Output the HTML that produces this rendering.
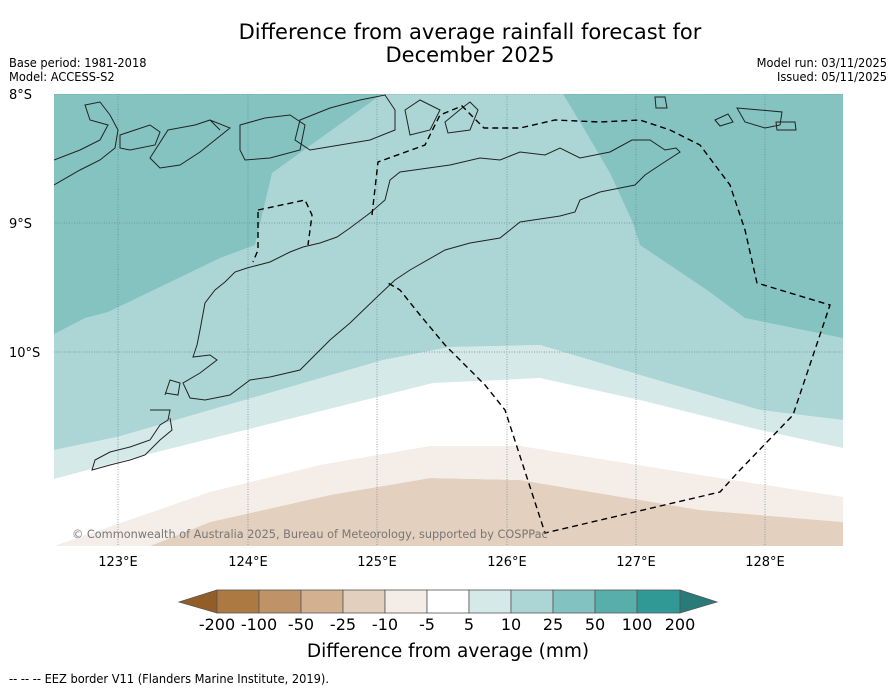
<!DOCTYPE html>
<html><head><meta charset="utf-8"><style>
body{margin:0;background:#fff;width:896px;height:690px;overflow:hidden;font-family:"DejaVu Sans","Liberation Sans",sans-serif}
svg{display:block}
.sm{font-family:"DejaVu Sans Condensed","DejaVu Sans",sans-serif;font-size:12.7px}
</style></head><body>
<svg width="896" height="690">
<text x="470" y="39" text-anchor="middle" font-size="21">Difference from average rainfall forecast for</text>
<text x="470" y="62" text-anchor="middle" font-size="21">December 2025</text>
<text x="9" y="67" class="sm">Base period: 1981-2018</text>
<text x="9" y="81" class="sm">Model: ACCESS-S2</text>
<text x="887" y="67" class="sm" text-anchor="end">Model run: 03/11/2025</text>
<text x="887" y="81" class="sm" text-anchor="end">Issued: 05/11/2025</text>
<defs><clipPath id="mc"><rect x="54" y="94" width="789" height="452"/></clipPath></defs>
<g clip-path="url(#mc)">
<rect x="54" y="94" width="789" height="452" fill="#fff"/>
<polygon fill="#e3d0bf" points="54,560 150,546 210,522 330,495 430,478 520,480 700,510 843,522 843,560"/>
<polygon fill="#f4ede8" points="54,546 210,492 320,465 430,446 520,446 700,475 843,497 843,522 700,510 520,480 430,478 330,495 210,522 150,546"/>
<polygon fill="#d5e9e8" points="54,450 117,437 383,360 450,347 540,345 640,375 760,410 843,420 843,448 760,430 640,400 540,378 433,383 117,462 54,479"/>
<polygon fill="#acd6d5" points="54,94 843,94 843,420 760,410 640,375 540,345 450,347 383,360 117,437 54,450"/>
<polygon fill="#84c3c0" points="54,94 382,94 272,173 255,245 220,258 108,312 85,318 54,334"/>
<polygon fill="#84c3c0" points="563,94 843,94 843,338 745,318 707,290 640,245 633,223 610,173 583,127"/>
<g stroke="#6a8a8a" stroke-width="0.7" stroke-dasharray="1,1.5">
<line x1="118" y1="94" x2="118" y2="546"/><line x1="248" y1="94" x2="248" y2="546"/><line x1="377" y1="94" x2="377" y2="546"/><line x1="507" y1="94" x2="507" y2="546"/><line x1="636" y1="94" x2="636" y2="546"/><line x1="765" y1="94" x2="765" y2="546"/>
<line x1="54" y1="94" x2="843" y2="94"/><line x1="54" y1="223" x2="843" y2="223"/><line x1="54" y1="352" x2="843" y2="352"/>
</g>
<g fill="none" stroke="#222" stroke-width="1">
<path d="M193,357 L197,345 L200,330 L205,303 L215,290 L225,282 L235,272 L247,268 L270,262 L290,252 L303,247 L320,243 L337,237 L350,228 L370,213 L385,200 L390,180 L400,172 L450,165 L480,158 L500,160 L520,152 L545,155 L560,148 L580,158 L610,152 L632,140 L650,140 L665,150 L676,148 L680,152 L660,165 L645,175 L635,185 L620,188 L600,192 L580,200 L575,212 L560,216 L520,222 L500,238 L470,243 L445,250 L410,270 L395,280 L377,297 L350,323 L330,340 L317,353 L300,370 L270,377 L250,380 L230,395 L205,400 L190,398 L183,383 L200,373 L217,360 L210,355 Z"/>
<path d="M165,395 L170,380 L180,383 L178,395 L165,393 M150,410 L170,410 L168,420 L160,425 L150,440 L130,447 L110,452 L95,460 L92,470 L110,465 L130,460 L145,455 L160,440 L172,430 L170,418"/>
<path d="M54,160 L80,150 L100,140 L108,125 L90,120 L85,105 L100,102 L110,115 L118,130 L115,148 L100,160 L80,170 L54,185 M120,135 L150,125 L160,132 L155,145 L130,150 L120,148 Z M168,130 L195,125 L210,120 L230,128 L215,140 L200,152 L180,165 L160,168 L150,158 Z M195,125 L210,120 L220,130 M240,125 L265,118 L290,115 L305,125 L300,150 L270,158 L245,160 L240,150 Z M300,120 L330,108 L360,100 L385,95 L395,110 L395,130 L370,140 L340,145 L310,150 L295,140 Z M405,110 L420,100 L440,110 L430,130 L410,135 Z M462,108 L470,102 L478,110 L470,130 L448,133 L445,122 Z"/>
<path d="M655,97 L665,97 L667,108 L656,108 Z M715,120 L728,114 L733,122 L720,126 Z M737,108 L760,110 L782,112 L780,125 L765,128 L745,122 Z M776,122 L795,122 L796,130 L777,130 Z"/>
</g>
<g fill="none" stroke="#000" stroke-width="1.4" stroke-dasharray="6,4">
<path d="M258,210 L305,200 L312,215 L308,245 M258,212 L258,250 L253,262"/>
<path d="M372,215 L378,162 L425,145 L440,115 L462,106 L484,128 L520,128 L555,120 L600,122 L640,120 L670,130 L700,145 L730,185 L745,230 L757,283 L830,305 L793,415 L740,470 L720,492 L545,533 L505,410 L485,385 L445,345 L420,315 L400,290 L388,283"/>
</g>
<text x="72" y="538" font-size="11.3" fill="#777">© Commonwealth of Australia 2025, Bureau of Meteorology, supported by COSPPac</text>
</g>
<g font-size="13" fill="#000">
<text x="9" y="99">8°S</text>
<text x="9" y="228">9°S</text>
<text x="9" y="357">10°S</text>
<g text-anchor="middle">
<text x="118" y="566">123°E</text><text x="248" y="566">124°E</text><text x="377" y="566">125°E</text><text x="507" y="566">126°E</text><text x="636" y="566">127°E</text><text x="765" y="566">128°E</text>
</g></g>
<g stroke="#555" stroke-width="0.8">
<polygon points="217,590 179,602 217,613" fill="#935d27"/>
<rect x="217" y="590" width="42" height="23" fill="#ad7942"/>
<rect x="259" y="590" width="42" height="23" fill="#c09268"/>
<rect x="301" y="590" width="42" height="23" fill="#d3b190"/>
<rect x="343" y="590" width="42" height="23" fill="#e3cfbd"/>
<rect x="385" y="590" width="42" height="23" fill="#f4ece7"/>
<rect x="427" y="590" width="42" height="23" fill="#ffffff"/>
<rect x="469" y="590" width="42" height="23" fill="#d5e9e8"/>
<rect x="511" y="590" width="42" height="23" fill="#acd6d5"/>
<rect x="553" y="590" width="42" height="23" fill="#82c2c0"/>
<rect x="595" y="590" width="42" height="23" fill="#58aeab"/>
<rect x="637" y="590" width="43" height="23" fill="#309996"/>
<polygon points="680,590 717,602 680,613" fill="#287b79"/>
</g>
<g font-size="16" text-anchor="middle">
<text x="217" y="630">-200</text><text x="259" y="630">-100</text><text x="301" y="630">-50</text><text x="343" y="630">-25</text><text x="385" y="630">-10</text><text x="427" y="630">-5</text><text x="469" y="630">5</text><text x="511" y="630">10</text><text x="553" y="630">25</text><text x="595" y="630">50</text><text x="637" y="630">100</text><text x="680" y="630">200</text>
</g>
<text x="448" y="657" font-size="18.5" text-anchor="middle">Difference from average (mm)</text>
<text x="9" y="683" class="sm">-- -- -- EEZ border V11 (Flanders Marine Institute, 2019).</text>
</svg>
</body></html>
